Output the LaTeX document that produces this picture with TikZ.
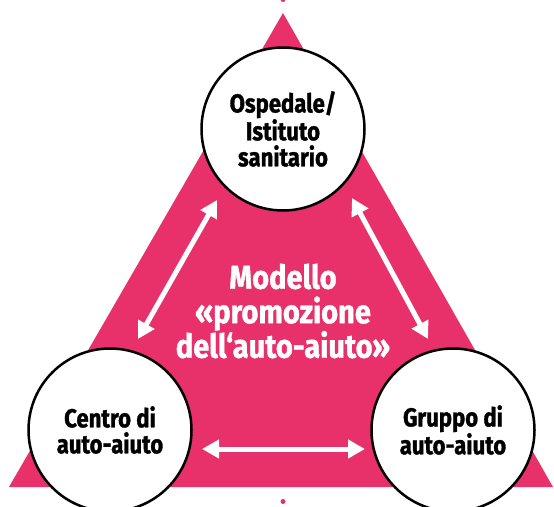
\documentclass[tikz,border=0pt]{standalone}
\usepackage{fontspec}
\newfontfamily\labfont{Fira Sans}[FakeStretch=0.85,BoldFeatures={FakeBold=1.2}]
\newfontfamily\titlefont{Fira Sans}[FakeStretch=0.88,BoldFeatures={FakeBold=1.2}]
\usetikzlibrary{arrows.meta,calc}
\definecolor{pinkc}{HTML}{E8306B}
\begin{document}
\begin{tikzpicture}[x=1pt,y=-1pt,
  station/.style={circle,draw=black,line width=2.5pt,fill=white,minimum size=163pt,inner sep=0pt,align=center,font=\labfont\bfseries\fontsize{26}{26}\selectfont},
  dblarrow/.style={draw=white,line width=5pt,{Triangle[length=17pt,width=18pt]}-{Triangle[length=17pt,width=18pt]}},
  title/.style={text=white,align=center,font=\titlefont\bfseries\fontsize{33}{34.5}\selectfont},
  pdot/.style={circle,fill=pinkc,inner sep=0pt,minimum size=5pt}]
\useasboundingbox (0,0) rectangle (554,506);
\fill[pinkc] (283,13) -- (553,487) -- (9,487) -- cycle;
\node[pdot] (dtop) at (283,-0.5) {};
\node[pdot] (dbot) at (283,501.5) {};
\node[station] (top) at (283,129) {Ospedale/\\Istituto\\sanitario};
\node[station] (left) at (110,430) {Centro di\\auto-aiuto};
\node[station] (right) at (453,430) {Gruppo di\\auto-aiuto};
\node[title] (model) at (283,311) {Modello\\«promozione\\dell‘auto-aiuto»};
\draw[dblarrow] ($(top)+(-66,71)$) -- ($(left)+(28,-91)$);
\draw[dblarrow] ($(top)+(69,69)$) -- ($(right)+(-25,-91)$);
\draw[dblarrow] ($(left)+(92,19)$) -- ($(right)+(-88,19)$);
\end{tikzpicture}
\end{document}
